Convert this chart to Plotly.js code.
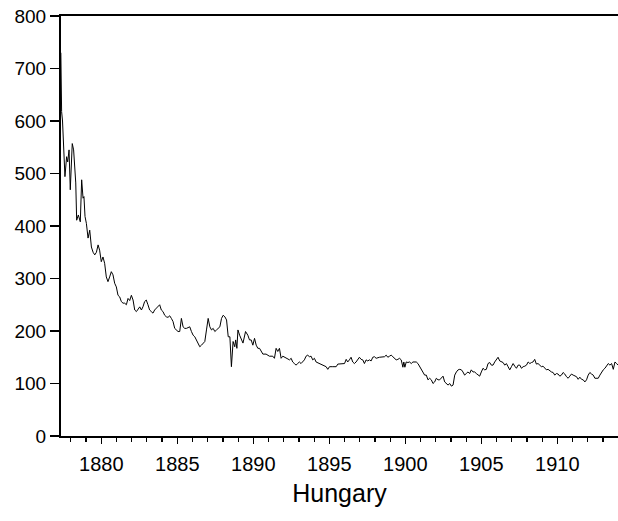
<!DOCTYPE html>
<html>
<head>
<meta charset="utf-8">
<script src="https://cdn.plot.ly/plotly-3.0.1.min.js"></script>
<style>html,body{margin:0;padding:0;background:#fff;}#chart{width:618px;height:521px;}</style>
</head>
<body>
<div id="chart"></div>
<script>
const years = [
1877.34,1877.39,1877.45,1877.61,1877.72,1877.79,1877.88,1877.96,1878.09,1878.18,
1878.32,1878.38,1878.49,1878.62,1878.71,1878.80,1878.86,1878.93,1879.02,1879.13,
1879.24,1879.35,1879.46,1879.57,1879.68,1879.79,1879.89,1880.00,1880.11,1880.22,
1880.33,1880.44,1880.55,1880.66,1880.77,1880.88,1880.99,1881.10,1881.21,1881.32,
1881.43,1881.54,1881.65,1881.76,1881.87,1881.98,1882.09,1882.20,1882.31,1882.42,
1882.53,1882.64,1882.74,1882.85,1882.96,1883.07,1883.18,1883.29,1883.40,1883.51,
1883.62,1883.73,1883.84,1883.95,1884.06,1884.17,1884.28,1884.39,1884.50,1884.61,
1884.72,1884.83,1884.94,1885.05,1885.16,1885.27,1885.38,1885.49,1885.60,1885.71,
1885.82,1885.93,1886.04,1886.15,1886.26,1886.37,1886.48,1886.59,1886.70,1886.81,
1886.92,1887.03,1887.14,1887.25,1887.36,1887.47,1887.58,1887.69,1887.80,1887.91,
1888.02,1888.13,1888.24,1888.35,1888.46,1888.56,1888.67,1888.78,1888.84,1888.92,
1888.99,1889.10,1889.21,1889.32,1889.49,1889.64,1889.75,1889.86,1889.97,1890.08,
1890.19,1890.30,1890.41,1890.52,1890.63,1890.84,1890.95,1891.06,1891.28,1891.39,
1891.50,1891.61,1891.72,1891.83,1891.94,1892.16,1892.38,1892.49,1892.59,1892.70,
1892.81,1892.92,1893.03,1893.14,1893.25,1893.36,1893.47,1893.58,1893.69,1893.80,
1893.91,1894.02,1894.13,1894.35,1894.46,1894.57,1894.79,1894.90,1895.01,1895.23,
1895.45,1895.56,1895.78,1896.00,1896.11,1896.21,1896.32,1896.43,1896.54,1896.65,
1896.76,1896.87,1896.98,1897.09,1897.20,1897.31,1897.42,1897.53,1897.64,1897.75,
1897.86,1897.97,1898.08,1898.30,1898.52,1898.63,1898.74,1898.85,1898.96,1899.07,
1899.18,1899.29,1899.40,1899.51,1899.62,1899.73,1899.84,1899.90,1899.97,1900.06,
1900.17,1900.28,1900.39,1900.50,1900.61,1900.72,1900.83,1900.94,1901.05,1901.16,
1901.27,1901.38,1901.49,1901.60,1901.71,1901.82,1901.93,1902.04,1902.15,1902.26,
1902.37,1902.48,1902.59,1902.70,1902.81,1902.92,1903.03,1903.14,1903.25,1903.36,
1903.47,1903.58,1903.69,1903.79,1903.90,1904.01,1904.12,1904.23,1904.34,1904.45,
1904.56,1904.67,1904.78,1904.89,1905.00,1905.11,1905.22,1905.33,1905.44,1905.55,
1905.66,1905.77,1905.88,1905.99,1906.10,1906.21,1906.32,1906.43,1906.54,1906.65,
1906.76,1906.87,1906.98,1907.09,1907.20,1907.31,1907.42,1907.53,1907.64,1907.75,
1907.86,1907.97,1908.08,1908.19,1908.30,1908.40,1908.51,1908.62,1908.73,1908.84,
1908.95,1909.06,1909.17,1909.28,1909.39,1909.50,1909.61,1909.72,1909.83,1909.94,
1910.05,1910.16,1910.27,1910.38,1910.49,1910.60,1910.71,1910.82,1910.93,1911.04,
1911.15,1911.26,1911.37,1911.48,1911.59,1911.70,1911.81,1911.92,1912.03,1912.14,
1912.25,1912.36,1912.47,1912.58,1912.69,1912.80,1912.91,1913.02,1913.13,1913.24,
1913.35,1913.46,1913.57,1913.68,1913.79,1913.90,1913.99
];
const hungary = [
730,618,600,494,532,522,545,469,557,545,
482,411,421,408,488,453,456,418,405,377,
392,360,350,345,350,364,354,332,341,329,
303,294,303,313,307,291,284,268,265,256,
253,253,250,262,258,268,259,240,237,243,
246,240,246,256,259,250,240,237,234,240,
243,246,250,240,237,230,227,226,229,224,
218,205,202,199,199,224,208,205,205,207,
208,199,192,189,183,175,170,173,177,180,
202,224,208,202,205,199,202,205,208,224,
230,227,221,189,189,132,180,170,183,167,
202,192,183,177,199,192,183,183,173,186,
173,167,167,161,156,156,154,152,152,148,
167,161,167,148,152,148,145,148,141,138,
135,138,141,138,141,145,152,154,151,152,
145,148,141,138,135,135,132,127,132,132,
132,137,137,138,146,141,145,150,141,138,
141,145,150,146,145,138,145,143,145,143,
150,151,148,150,150,151,154,150,152,154,
151,148,145,146,148,145,131,141,131,141,
140,141,138,141,141,141,138,132,126,122,
116,116,107,110,107,100,103,110,107,107,
110,114,103,100,97,100,95,97,116,122,
126,127,126,122,116,119,122,119,126,122,
122,119,116,114,122,129,126,127,138,140,
135,135,141,145,150,143,141,140,135,138,
132,126,132,138,133,129,135,135,129,132,
133,135,141,138,140,141,146,137,138,135,
132,133,129,126,127,124,122,121,116,119,
118,114,116,121,118,113,110,114,118,116,
114,113,108,112,108,107,103,107,116,121,
118,116,110,110,110,116,122,126,129,135,
138,135,138,127,141,138,135
];
const yTicks = [0,100,200,300,400,500,600,700,800];
const xTitle = "Hungary";

const trace = {
  x: years, y: hungary, type: 'scatter', mode: 'lines',
  line: {color: '#000', width: 1}, hoverinfo: 'skip', showlegend: false
};
const layout = {
  width: 618, height: 521,
  margin: {l: 61, r: 0, t: 16, b: 85, pad: 0},
  paper_bgcolor: '#fff', plot_bgcolor: '#fff',
  font: {family: 'Arial, "Liberation Sans", sans-serif', size: 20, color: '#000'},
  xaxis: {
    range: [1877.35, 1913.99], showgrid: false, zeroline: false,
    showline: true, linecolor: '#000', linewidth: 2, mirror: true,
    tickmode: 'linear', tick0: 1880, dtick: 5,
    ticks: 'outside', ticklen: 6, tickwidth: 1.2, tickcolor: '#000',
    minor: {tickmode: 'linear', tick0: 1878, dtick: 1, ticks: 'outside', ticklen: 3.5, tickwidth: 1.2, tickcolor: '#000', showgrid: false},
    tickfont: {size: 20},
    ticklabelstandoff: 3,
    title: {text: xTitle, font: {size: 25}, standoff: 10}
  },
  yaxis: {
    range: [0, 800], showgrid: false, zeroline: false,
    showline: true, linecolor: '#000', linewidth: 2,
    tickmode: 'array', tickvals: yTicks, ticktext: yTicks.map(String),
    ticks: 'outside', ticklen: 9, tickwidth: 1.2, tickcolor: '#000',
    tickfont: {size: 19}
  }
};
Plotly.newPlot('chart', [trace], layout, {staticPlot: true, displayModeBar: false});
</script>
</body>
</html>
